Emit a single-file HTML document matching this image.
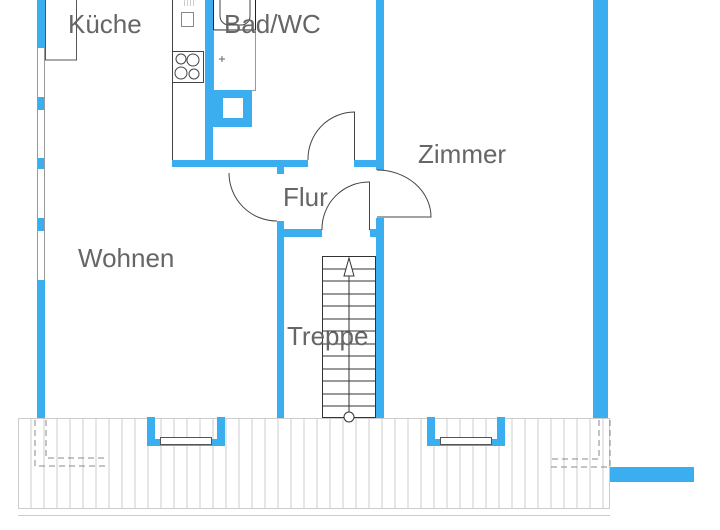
<!DOCTYPE html>
<html><head><meta charset="utf-8"><style>
html,body{margin:0;padding:0;background:#fff;width:720px;height:530px;overflow:hidden}
text{font-family:"Liberation Sans",sans-serif;font-size:26px;fill:#666}
</style></head><body>
<svg width="720" height="530" viewBox="0 0 720 530" xmlns="http://www.w3.org/2000/svg">
<g stroke="#ccc" stroke-width="1">
<rect x="18.5" y="418.5" width="591" height="90" fill="#fff"/>
<line x1="18" y1="515.5" x2="610" y2="515.5"/>
<path d="M31,418V508M44,418V508M57,418V508M70,418V508M83,418V508M96,418V508M109,418V508M122,418V508M135,418V508M148,418V508M161,418V508M174,418V508M187,418V508M200,418V508M213,418V508M226,418V508M239,418V508M252,418V508M265,418V508M278,418V508M291,418V508M304,418V508M317,418V508M330,418V508M343,418V508M356,418V508M369,418V508M382,418V508M395,418V508M408,418V508M421,418V508M434,418V508M447,418V508M460,418V508M473,418V508M486,418V508M499,418V508M512,418V508M525,418V508M538,418V508M551,418V508M564,418V508M577,418V508M590,418V508M603,418V508"/>
</g>
<g stroke="#888" stroke-width="1" stroke-dasharray="6,4" fill="none">
<path d="M35,420V466H108M46,420V458H108"/>
<path d="M610,420V467H548M599,420V459H548"/>
</g>
<g fill="#3aaeef">
<rect x="37" y="0" width="8" height="48"/>
<rect x="37" y="97" width="8" height="13"/>
<rect x="37" y="158" width="8" height="11"/>
<rect x="37" y="218" width="8" height="13"/>
<rect x="37" y="280" width="8" height="138"/>
</g>
<g stroke="#999" stroke-width="1" fill="none"><path d="M37.5,48V280M44.5,48V280"/></g>
<rect x="45.5" y="-1" width="31" height="61" fill="none" stroke="#555"/>
<g fill="none" stroke="#444" stroke-width="1">
<path d="M172.5,0V160"/>
<rect x="172.5" y="51.5" width="31" height="31"/>
<circle cx="181" cy="59" r="5"/><circle cx="193" cy="60" r="6"/>
<circle cx="181" cy="73" r="6"/><circle cx="194" cy="74" r="5"/>
<rect x="181.5" y="12.5" width="12" height="14" stroke="#888"/>
<path d="M184.5,0V6M187.5,0V6M190.5,0V6M193.5,0V6" stroke="#aaa" stroke-width="0.6"/>
<rect x="213.5" y="-1" width="42" height="31" stroke="#222"/>
<path d="M220,0V16A9,9 0 0 0 229,25H241A9,9 0 0 0 250,16V0"/>
<rect x="213.5" y="30.5" width="42" height="60" stroke="#999"/>
<path d="M219,59h6M222,56v6" stroke="#666"/>
</g>
<g fill="#3aaeef">
<rect x="205" y="0" width="8" height="167"/>
<rect x="213" y="90" width="39" height="37"/>
<rect x="172" y="160" width="136" height="7"/>
<rect x="354" y="160" width="30" height="7"/>
<rect x="376" y="0" width="8" height="170"/>
<rect x="277" y="167" width="7" height="7"/>
<rect x="593" y="0" width="15" height="418"/>
<rect x="277" y="221" width="7" height="197"/>
<rect x="284" y="229" width="38" height="8"/>
<rect x="376" y="218" width="8" height="200"/>
<rect x="370" y="229" width="6" height="8"/>
<rect x="610" y="467" width="84" height="15"/>
<path d="M147,417h8v22h62v-22h8v29h-78z"/>
<path d="M427,417h8v22h62v-22h8v29h-78z"/>
</g>
<rect x="223" y="98" width="20" height="20" fill="#fff"/>
<g fill="#fff" stroke="#555" stroke-width="1">
<rect x="160.5" y="437.5" width="51" height="7"/>
<rect x="440.5" y="437.5" width="51" height="7"/>
</g>
<g fill="none" stroke="#444" stroke-width="1">
<path d="M354.5,160V112A47,47 0 0 0 308,160"/>
<path d="M229,173A48,48 0 0 0 277,221"/>
<path d="M369.5,230V182A47,47 0 0 0 322,230"/>
<path d="M377,170A54,47 0 0 1 431,217H377"/>
</g>
<g fill="none" stroke="#333" stroke-width="1">
<rect x="322.5" y="256.5" width="53" height="161"/>
<path d="M322,269H376M322,281H376M322,294H376M322,306H376M322,319H376M322,331H376M322,344H376M322,356H376M322,369H376M322,381H376M322,394H376M322,406H376"/>
<path d="M349,258V412"/>
<path d="M349,258L344,276H354Z" fill="#fff"/>
<circle cx="349" cy="417" r="5" fill="#fff"/>
</g>
<text x="68" y="33">Küche</text>
<text x="224" y="33">Bad/WC</text>
<text x="418" y="163">Zimmer</text>
<text x="283" y="206">Flur</text>
<text x="78" y="267">Wohnen</text>
<text x="287" y="345">Treppe</text>
</svg>
</body></html>
